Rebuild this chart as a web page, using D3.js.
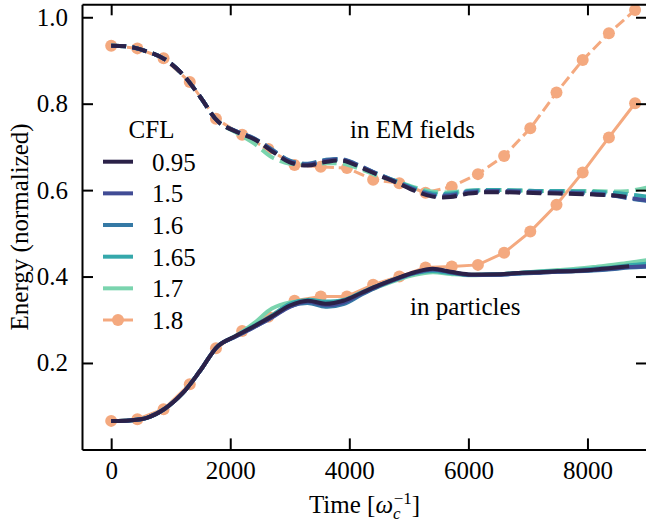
<!DOCTYPE html>
<html>
<head>
<meta charset="utf-8">
<script src="https://cdn.jsdelivr.net/npm/d3@7"></script>
<style>
  body { margin: 0; background: #fff; }
  svg text { font-family: "Liberation Serif", "DejaVu Serif", serif; fill: #000; }
</style>
</head>
<body>
<svg id="chart" width="646" height="525" font-family="Liberation Serif, DejaVu Serif, serif"></svg>
<script>
// sample times for the low-CFL runs
const times = [0,300,600,900,1200,1500,1800,2100,2400,2700,3000,3300,3600,3900,4200,4500,
  4800,5100,5400,5700,6000,6300,6600,6900,7200,7500,7800,8100,8400,8700,9000]
// CFL = 1.8 is plotted with markers at its output times
const times18 = [0,440,880,1320,1760,2200,2640,3080,3520,3960,4400,4840,5280,5720,6160,6600,
  7040,7480,7920,8360,8800]

const cflLabels = ["0.95", "1.5", "1.6", "1.65", "1.7", "1.8"]
const colors = ["#2b2148", "#414c95", "#3579a5", "#35a8ab", "#7ad4ae", "#f4a97f"]

// energy in EM fields (dashed)
const em095 = [.934,.932,.921,.903,.868,.815,.758,.735,.718,.690,.664,.657,.665,.668,.652,.634,.617,.598,.585,.584,.592,.595,.595,.594,.593,.592,.591,.590,.588,.584]
const em15  = [.934,.932,.921,.903,.868,.815,.758,.736,.719,.692,.666,.659,.668,.670,.654,.635,.618,.600,.587,.587,.594,.597,.597,.596,.595,.594,.593,.591,.588,.582,.576]
const em16  = [.934,.932,.921,.903,.868,.815,.758,.736,.720,.694,.668,.661,.670,.671,.655,.636,.619,.601,.589,.589,.596,.598,.598,.597,.596,.595,.594,.592,.588,.581,.575]
const em165 = [.934,.932,.921,.903,.868,.815,.758,.736,.719,.693,.667,.660,.669,.669,.653,.636,.620,.604,.592,.592,.598,.600,.600,.599,.598,.598,.597,.596,.594,.590,.585]
const em17  = [.934,.932,.921,.903,.868,.815,.758,.733,.708,.676,.661,.660,.662,.661,.648,.632,.620,.606,.596,.595,.599,.600,.600,.599,.598,.598,.598,.598,.597,.598,.606]
const em18  = [.934,.928,.905,.850,.765,.728,.695,.658,.654,.651,.624,.616,.594,.608,.637,.679,.743,.826,.901,.963,1.017]

// energy in particles (solid)
const part095 = [.066,.067,.073,.094,.130,.183,.240,.263,.285,.308,.333,.344,.337,.344,.362,.380,.396,.410,.418,.411,.405,.405,.406,.409,.410,.412,.413,.416,.420,.424]
const part15  = [.066,.067,.073,.094,.130,.183,.240,.262,.283,.305,.330,.342,.334,.340,.360,.379,.395,.409,.417,.410,.404,.404,.405,.408,.409,.411,.413,.415,.418,.422,.424]
const part16  = [.066,.067,.073,.094,.130,.183,.240,.262,.283,.306,.331,.339,.330,.336,.358,.378,.394,.408,.416,.410,.404,.404,.405,.407,.409,.411,.412,.414,.417,.421,.423]
const part165 = [.066,.067,.073,.094,.130,.183,.240,.263,.286,.310,.337,.346,.342,.346,.363,.380,.396,.408,.413,.408,.404,.405,.406,.409,.411,.413,.415,.418,.421,.426,.430]
const part17  = [.066,.067,.073,.094,.130,.183,.240,.263,.292,.326,.340,.343,.340,.343,.360,.377,.392,.404,.410,.406,.403,.404,.406,.409,.412,.415,.418,.422,.427,.432,.438]
const part18  = [.066,.070,.093,.151,.234,.274,.307,.344,.354,.354,.381,.400,.421,.423,.427,.455,.504,.566,.641,.722,.801]

const xTicks = [0, 2000, 4000, 6000, 8000]
const yTicks = [0.2, 0.4, 0.6, 0.8, 1.0]

const emList = [em095, em15, em16, em165, em17, em18]
const partList = [part095, part15, part16, part165, part17, part18]
const series = cflLabels.map((cfl, i) => ({
  cfl, color: colors[i],
  t: i === 5 ? times18 : times,
  em: emList[i], part: partList[i],
  markers: i === 5
}))

const mLeft = 82, mRight = 647, mTop = 4.3, mBottom = 449.4
const fs = 25

const svg = d3.select("#chart")
const x = d3.scaleLinear().domain([-490, 9000]).range([mLeft, mRight])
const y = d3.scaleLinear().domain([0, 1.03]).range([mBottom, mTop])

svg.append("clipPath").attr("id", "plot")
  .append("rect").attr("x", mLeft).attr("y", mTop).attr("width", mRight - mLeft).attr("height", mBottom - mTop)

const g = svg.append("g").attr("clip-path", "url(#plot)")

// draw high CFL first so 0.95 ends up on top
series.slice().reverse().forEach(s => {
  const lw = s.markers ? 3 : 4
  const line = d3.line()
    .x((d, i) => x(s.t[i]))
    .y(d => y(d))
    .curve(s.markers ? d3.curveLinear : d3.curveCatmullRom)

  g.append("path")
    .attr("d", line(s.em))
    .attr("fill", "none").attr("stroke", s.color).attr("stroke-width", lw)
    .attr("stroke-dasharray", `${3.7 * lw},${1.6 * lw}`)
  g.append("path")
    .attr("d", line(s.part))
    .attr("fill", "none").attr("stroke", s.color).attr("stroke-width", lw)

  if (s.markers) {
    [s.em, s.part].forEach(vals => {
      g.selectAll(null).data(vals).join("circle")
        .attr("cx", (d, i) => x(s.t[i]))
        .attr("cy", d => y(d))
        .attr("r", 6)
        .attr("fill", s.color)
    })
  }
})

// axes, ticks pointing inward on all four sides
const styleAxis = sel => {
  sel.attr("font-family", null).attr("font-size", fs)
  sel.select(".domain").attr("stroke-width", 2)
  sel.selectAll(".tick line").attr("stroke-width", 2)
}

svg.append("g").attr("transform", `translate(0,${mBottom})`)
  .call(d3.axisBottom(x).tickValues(xTicks).tickFormat(d3.format("d")).tickSizeInner(-11).tickSizeOuter(0).tickPadding(12))
  .call(styleAxis)
svg.append("g").attr("transform", `translate(${mLeft},0)`)
  .call(d3.axisLeft(y).tickValues(yTicks).tickFormat(d3.format(".1f")).tickSizeInner(-11).tickSizeOuter(0).tickPadding(14))
  .call(styleAxis)
svg.append("g").attr("transform", `translate(0,${mTop})`)
  .call(d3.axisTop(x).tickValues(xTicks).tickFormat("").tickSizeInner(-11).tickSizeOuter(0))
  .call(styleAxis)
svg.append("g").attr("transform", `translate(${mRight},0)`)
  .call(d3.axisRight(y).tickValues(yTicks).tickFormat("").tickSizeInner(-11).tickSizeOuter(0))
  .call(styleAxis)

// axis labels
const xl = svg.append("text").attr("x", (mLeft + mRight) / 2).attr("y", 512.7)
  .attr("text-anchor", "middle").attr("font-size", fs)
xl.append("tspan").text("Time [")
xl.append("tspan").attr("font-style", "italic").text("ω")
xl.append("tspan").attr("font-style", "italic").attr("font-size", 17).attr("dy", 6).text("c")
xl.append("tspan").attr("font-size", 17).attr("dx", -7).attr("dy", -15).text("−1")
xl.append("tspan").attr("dy", 9).text("]")

svg.append("text")
  .attr("transform", `translate(28,${(mTop + mBottom) / 2}) rotate(-90)`)
  .attr("text-anchor", "middle").attr("font-size", fs)
  .text("Energy (normalized)")

// annotations
svg.append("text").attr("x", 350).attr("y", 138).attr("font-size", fs).text("in EM fields")
svg.append("text").attr("x", 410).attr("y", 315).attr("font-size", fs).text("in particles")

// legend
const leg = svg.append("g")
leg.append("text").attr("x", 151.5).attr("y", 137.7).attr("text-anchor", "middle")
  .attr("font-size", fs).text("CFL")
series.forEach((s, i) => {
  const cy = 161.7 + i * 31.66
  leg.append("line").attr("x1", 103).attr("x2", 133).attr("y1", cy).attr("y2", cy)
    .attr("stroke", s.color).attr("stroke-width", s.markers ? 3 : 4)
  if (s.markers) leg.append("circle").attr("cx", 118).attr("cy", cy).attr("r", 6).attr("fill", s.color)
  leg.append("text").attr("x", 152).attr("y", cy + 9).attr("font-size", fs).text(s.cfl)
})
</script>
</body>
</html>
